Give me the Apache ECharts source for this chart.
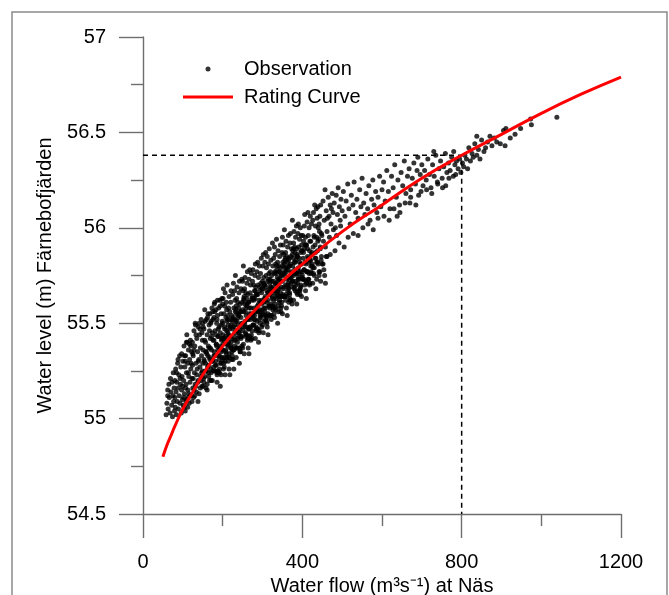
<!DOCTYPE html>
<html>
<head>
<meta charset="utf-8">
<script src="https://cdn.jsdelivr.net/npm/echarts@6/dist/echarts.min.js"></script>
<style>
html,body{margin:0;padding:0;background:#fff;}
#c{width:669px;height:595px;}
</style>
</head>
<body>
<div id="c"></div>
<script>
// ---- Data ----
const xTicks = [0, 400, 800, 1200];
const yTicks = [54.5, 55, 55.5, 56, 56.5, 57];

// Rating curve (flow m3/s, water level m)
const curveQ = [50, 60, 70, 80, 100, 125, 150, 200, 250, 300, 350, 400, 500, 600, 700, 800, 900, 1000, 1100, 1200];
const curveH = [54.80, 54.86, 54.91, 54.96, 55.05, 55.14, 55.23, 55.38, 55.50, 55.61, 55.72, 55.81, 55.98, 56.12, 56.26, 56.38, 56.49, 56.60, 56.70, 56.79];

// Reference reading (dashed guide lines)
const refQ = 800;
const refH = 56.38;

// Observations [flow, level]
const obsLow = [
[58,55.02],[60,55.08],[62,55.15],[63,55.05],[65,55.18],[66,55.11],[68,55.03],[69,55.21],[70,55.14],[72,55.07],[73,55.19],[74,55.01],[75,55.12],[76,55.24],[77,55.09],[78,55.16],[79,55.04],[80,55.20],[80,55.11],[62,55.12],
[81,55.06],[82,55.26],[83,55.14],[84,55.02],[85,55.19],[86,55.09],[87,55.29],[88,55.16],[89,55.05],[90,55.23],[91,55.12],[92,55.33],[93,55.08],[94,55.18],[95,55.27],[96,55.03],[97,55.15],[98,55.22],[99,55.10],[100,55.30],[84,55.24],[88,55.31],[93,55.21],[97,55.34],[99,55.17],
[101,55.07],[102,55.20],[103,55.38],[104,55.13],[105,55.27],[106,55.04],[107,55.33],[108,55.18],[109,55.24],[110,55.10],[111,55.40],[112,55.29],[113,55.15],[114,55.36],[115,55.22],[116,55.08],[117,55.31],[118,55.19],[119,55.41],[120,55.26],[121,55.12],[122,55.35],[123,55.21],[124,55.40],[125,55.16],[106,55.30],[110,55.44],[115,55.13],[120,55.38],[124,55.28],
[102,55.11],[104,55.33],[107,55.16],[109,55.40],[112,55.06],[114,55.24],[117,55.39],[121,55.29],[123,55.09],[125,55.34],
[126,55.33],[127,55.11],[128,55.46],[129,55.24],[130,55.38],[131,55.18],[132,55.49],[133,55.29],[134,55.14],[135,55.42],[136,55.26],[137,55.35],[138,55.20],[139,55.48],[140,55.31],[141,55.13],[142,55.44],[143,55.27],[144,55.37],[145,55.22],[146,55.52],[147,55.33],[148,55.17],[149,55.41],[150,55.29],[131,55.50],[138,55.09],[143,55.47],[147,55.24],[150,55.50],
[126,55.21],[128,55.36],[130,55.12],[133,55.44],[135,55.23],[139,55.30],[141,55.50],[144,55.16],[148,55.45],[149,55.25],
[151,55.36],[152,55.21],[153,55.47],[154,55.30],[155,55.57],[156,55.25],[157,55.40],[158,55.16],[159,55.52],[160,55.34],[161,55.44],[162,55.27],[163,55.55],[164,55.38],[165,55.22],[166,55.49],[167,55.32],[168,55.55],[169,55.42],[170,55.26],[171,55.51],[172,55.36],[173,55.58],[174,55.45],[175,55.30],[156,55.51],[161,55.18],[167,55.46],[171,55.20],[175,55.56],
[151,55.48],[153,55.19],[155,55.41],[157,55.29],[159,55.35],[162,55.53],[164,55.24],[166,55.37],[168,55.31],[170,55.50],[172,55.43],[174,55.20],
[176,55.41],[177,55.27],[178,55.53],[179,55.35],[180,55.61],[181,55.46],[182,55.30],[183,55.57],[184,55.39],[185,55.50],[186,55.24],[187,55.62],[188,55.43],[189,55.33],[190,55.58],[191,55.48],[192,55.37],[193,55.62],[194,55.45],[195,55.29],[196,55.55],[197,55.41],[198,55.63],[199,55.51],[200,55.36],[180,55.56],[186,55.52],[192,55.26],[196,55.49],[200,55.60],
[176,55.52],[178,55.33],[179,55.60],[181,55.25],[183,55.44],[185,55.38],[187,55.54],[189,55.47],[191,55.31],[194,55.59],[197,55.35],[199,55.42]
];
const obsMid = [
[200,55.50],[200,55.36],[201,55.63],[201,55.44],[202,55.68],[203,55.32],[203,55.55],[204,55.41],[205,55.59],[205,55.48],[206,55.30],[206,55.66],[207,55.43],[208,55.53],[208,55.35],[209,55.61],[210,55.46],[210,55.57],[211,55.39],[211,55.70],[212,55.52],[213,55.45],[213,55.54],[214,55.49],[215,55.58],[215,55.40],[216,55.64],[216,55.34],[217,55.47],[218,55.56],[218,55.43],[219,55.52],[220,55.38],[220,55.61],[221,55.49],[221,55.67],[222,55.42],[223,55.54],[223,55.31],[224,55.51],[228,55.26],
[225,55.47],[225,55.65],[226,55.53],[226,55.36],[227,55.71],[228,55.48],[228,55.58],[229,55.41],[230,55.67],[230,55.52],[231,55.62],[231,55.45],[232,55.75],[233,55.57],[233,55.51],[234,55.59],[235,55.55],[235,55.63],[236,55.46],[236,55.69],[237,55.40],[238,55.53],[238,55.61],[239,55.49],[240,55.58],[240,55.43],[241,55.66],[241,55.54],[242,55.72],[243,55.47],[243,55.60],[244,55.37],[245,55.56],[245,55.56],[246,55.42],[246,55.68],[247,55.50],[248,55.73],[248,55.38],[249,55.61],
[250,55.72],[250,55.57],[251,55.67],[251,55.50],[252,55.80],[253,55.62],[253,55.56],[254,55.64],[255,55.60],[255,55.68],[256,55.51],[256,55.74],[257,55.45],[258,55.58],[258,55.66],[259,55.54],[260,55.63],[260,55.48],[261,55.71],[261,55.59],[262,55.77],[263,55.52],[263,55.65],[264,55.42],[265,55.61],[265,55.61],[266,55.47],[266,55.73],[267,55.55],[268,55.78],[268,55.43],[269,55.66],[270,55.52],[270,55.70],[271,55.58],[271,55.41],[272,55.76],[273,55.53],[273,55.63],[274,55.46],
[275,55.64],[275,55.72],[276,55.55],[276,55.78],[277,55.49],[278,55.62],[278,55.70],[279,55.58],[280,55.67],[280,55.52],[281,55.75],[281,55.63],[282,55.81],[283,55.56],[283,55.69],[284,55.46],[285,55.65],[285,55.65],[286,55.51],[286,55.77],[287,55.59],[288,55.82],[288,55.47],[289,55.70],[290,55.56],[290,55.74],[291,55.62],[291,55.45],[292,55.80],[293,55.57],[293,55.67],[294,55.50],[295,55.76],[295,55.61],[296,55.71],[296,55.54],[297,55.84],[298,55.66],[298,55.60],[299,55.68],
[300,55.72],[300,55.57],[301,55.80],[301,55.68],[302,55.86],[303,55.61],[303,55.74],[304,55.51],[305,55.70],[305,55.70],[306,55.56],[306,55.82],[307,55.64],[308,55.87],[308,55.52],[309,55.75],[310,55.61],[310,55.79],[311,55.67],[311,55.50],[312,55.85],[313,55.62],[313,55.72],[314,55.55],[315,55.81],[315,55.66],[316,55.76],[316,55.59],[317,55.89],[318,55.71],[318,55.65],[319,55.73],[320,55.69],[320,55.77],[321,55.60],[321,55.83],[322,55.54],[323,55.67],[323,55.75],[324,55.63],
[325,55.69],[325,55.92],[326,55.57],[326,55.80],[327,55.66],[328,55.84],[328,55.72],[329,55.55],[330,55.90],[330,55.67],[331,55.77],[331,55.60],[332,55.86],[333,55.71],[333,55.81],[334,55.64],[335,55.94],[335,55.76],[336,55.70],[336,55.78],[337,55.74],[338,55.82],[338,55.65],[339,55.88],[340,55.59],[340,55.72],[341,55.80],[341,55.68],[342,55.77],[343,55.62],[343,55.85],[344,55.73],[345,55.91],[345,55.66],[346,55.79],[346,55.56],[347,55.75],[348,55.75],[348,55.61],[349,55.87],
[350,55.95],[350,55.72],[351,55.82],[351,55.65],[352,55.91],[353,55.76],[353,55.86],[354,55.69],[355,55.99],[355,55.81],[356,55.75],[356,55.83],[357,55.79],[358,55.87],[358,55.70],[359,55.93],[360,55.64],[360,55.77],[361,55.85],[361,55.73],[362,55.82],[363,55.67],[363,55.90],[364,55.78],[365,55.96],[365,55.71],[366,55.84],[366,55.61],[367,55.80],[368,55.80],[368,55.66],[369,55.92],[370,55.74],[370,55.97],[371,55.62],[371,55.85],[372,55.71],[373,55.89],[373,55.77],[374,55.60],
[375,56.04],[375,55.86],[376,55.80],[376,55.88],[377,55.84],[378,55.92],[378,55.75],[379,55.98],[380,55.69],[380,55.82],[381,55.90],[381,55.78],[382,55.87],[383,55.72],[383,55.95],[384,55.83],[385,56.01],[385,55.76],[386,55.89],[386,55.66],[387,55.85],[388,55.85],[388,55.71],[389,55.97],[390,55.79],[390,56.02],[391,55.67],[391,55.90],[392,55.76],[393,55.94],[393,55.82],[394,55.65],[395,56.00],[395,55.77],[396,55.87],[396,55.70],[397,55.96],[398,55.81],[398,55.91],[399,55.74]
];
// Dense core of observations close to the rating curve
const obsCore = [
[103,55.06],[108,55.09],[113,55.11],[118,55.12],[128,55.15],[133,55.17],[138,55.19],[145,55.20],
[151,55.17],[153,55.31],[155,55.22],[157,55.35],[159,55.25],[161,55.15],[163,55.33],[165,55.28],[167,55.20],[169,55.37],[171,55.24],[173,55.30],
[176,55.25],[178,55.41],[180,55.33],[182,55.28],[184,55.39],[186,55.23],[188,55.36],[190,55.43],[192,55.24],[194,55.38],[196,55.29],[198,55.42],
[201,55.39],[203,55.29],[205,55.47],[207,55.42],[209,55.34],[211,55.51],[213,55.38],[215,55.44],[217,55.32],[219,55.48],[221,55.40],[223,55.35],
[226,55.52],[228,55.36],[230,55.49],[232,55.56],[234,55.37],[236,55.51],[238,55.42],[240,55.55],[242,55.45],[244,55.35],[246,55.53],[248,55.48],
[251,55.46],[253,55.63],[255,55.50],[257,55.56],[259,55.44],[261,55.60],[263,55.52],[265,55.47],[267,55.58],[269,55.42],[271,55.55],[273,55.62],
[276,55.49],[278,55.63],[280,55.54],[282,55.67],[284,55.57],[286,55.47],[288,55.65],[290,55.60],[292,55.52],[294,55.69],[296,55.56],[298,55.62],
[301,55.55],[303,55.71],[305,55.63],[307,55.58],[309,55.69],[311,55.53],[313,55.66],[315,55.73],[317,55.54],[319,55.68],[321,55.59],[323,55.72],
[326,55.68],[328,55.58],[330,55.76],[332,55.71],[334,55.63],[336,55.80],[338,55.67],[340,55.73],[342,55.61],[344,55.77],[346,55.69],[348,55.64],
[351,55.80],[353,55.64],[355,55.77],[357,55.84],[359,55.65],[361,55.79],[363,55.70],[365,55.83],[367,55.73],[369,55.63],[371,55.81],[373,55.76],
[376,55.72],[378,55.89],[380,55.76],[382,55.82],[384,55.70],[386,55.86],[388,55.78],[390,55.73],[392,55.84],[394,55.68],[396,55.81],[398,55.88],
[401,55.73],[403,55.87],[405,55.78],[407,55.91],[409,55.81],[411,55.71],[413,55.89],[415,55.84],[417,55.76],[419,55.93],[421,55.80],[423,55.86],
[427,55.79],[430,55.95],[433,55.87],[436,55.82],[439,55.93],[442,55.77],[445,55.90],[448,55.97]
];
// Observations lying below the rating curve
const obsBelow = [
[182,55.25],[186,55.19],[190,55.24],[194,55.17],[198,55.32],[202,55.26],[206,55.23],[210,55.32],[214,55.30],[218,55.23],[222,55.37],[226,55.31],
[230,55.38],[234,55.32],[238,55.37],[242,55.29],[246,55.43],[250,55.37],[254,55.34],[258,55.43],[262,55.41],[266,55.34],[270,55.48],[274,55.42],
[278,55.49],[282,55.42],[286,55.47],[290,55.40],[294,55.54],[298,55.48],[302,55.45],[306,55.54],[310,55.51],[314,55.44],[318,55.58],[322,55.52],
[326,55.59],[330,55.53],[334,55.57],[338,55.50],[342,55.64],[346,55.58],[350,55.55],[354,55.64],[358,55.62],[362,55.54],[366,55.68],[370,55.62],
[374,55.69],[378,55.62],[382,55.67],[386,55.60],[390,55.74],[394,55.67],[398,55.64],[402,55.73],[406,55.70],[410,55.63],[414,55.77],[418,55.70],
[422,55.77],[426,55.71],[430,55.75],[434,55.68],[438,55.82],[442,55.75],[446,55.72],[450,55.81],[454,55.78],[458,55.71],[462,55.85],
[184,55.28],[188,55.25],[192,55.33],[196,55.23],[200,55.31],[204,55.27],[208,55.36],[212,55.32],[216,55.26],[220,55.37],[224,55.33],[228,55.43],
[232,55.41],[236,55.37],[240,55.45],[244,55.35],[248,55.43],[252,55.39],[256,55.48],[260,55.44],[264,55.37],[268,55.48],[272,55.44],[276,55.54],
[280,55.52],[284,55.48],[288,55.56],[292,55.46],[296,55.53],[300,55.49],[304,55.58],[308,55.54],[312,55.48],[316,55.59],[320,55.54],[324,55.64],
[328,55.62],[332,55.58],[336,55.66],[340,55.56],[344,55.64],[348,55.59],[352,55.68],[356,55.64],[360,55.58],[364,55.69],[368,55.65],[372,55.74],
[376,55.72],[380,55.68],[384,55.76],[388,55.65],[392,55.73],[396,55.69],[400,55.77],[404,55.73],[408,55.67],[412,55.77],[416,55.73],[420,55.83],
[424,55.80],[428,55.76],[432,55.84],[436,55.73],[440,55.81],[444,55.77],[448,55.85],[452,55.81],[456,55.75],[460,55.85],
[470,55.86],[482,55.88],[492,55.92],[505,55.90],[515,55.95],[528,55.97],[540,55.96],[552,56.00],[565,56.02],[578,55.99],[590,56.05],[605,56.06],
[618,56.04],[630,56.10],[645,56.08],[658,56.13],[672,56.16],[685,56.12],[698,56.19],[712,56.20],[725,56.18],[740,56.23],[752,56.21],[768,56.26],[785,56.28]
];
const obsHigh = [
[400,55.75],[400,55.88],[401,55.96],[402,55.84],[403,55.93],[404,55.78],[405,56.01],[405,55.89],[406,56.07],[407,55.82],[408,55.95],[409,55.72],[410,55.91],[410,55.91],[411,55.77],[412,56.03],[413,55.85],[414,56.08],[415,55.73],[415,55.96],[416,55.82],[417,56.00],[418,55.88],[419,55.71],[420,56.06],[420,55.83],[421,55.93],[422,55.76],[423,56.02],[424,55.87],
[425,55.81],[426,56.04],[427,55.90],[428,56.08],[429,55.96],[430,55.79],[431,56.12],[432,55.91],[433,56.01],[434,55.84],[435,56.10],[436,55.95],[437,56.05],[438,55.88],[439,56.11],[440,56.00],[441,55.94],[442,56.02],[443,55.98],[444,56.06],[445,55.89],[446,56.12],[447,55.83],[449,55.96],
[452,56.14],[455,56.04],[457,56.20],[460,56.09],[462,55.98],[465,56.16],[467,56.06],[470,56.12],[472,56.02],[475,56.18],[477,56.08],[480,56.13],[483,56.00],[485,56.17],[488,56.07],[490,56.21],[493,56.11],[495,56.04],[497,56.15],[500,56.09],
[453,55.93],[458,55.90],[463,56.05],[468,55.95],[473,56.10],[478,55.99],[486,55.96],[496,56.01],
[503,56.19],[507,56.06],[510,56.14],[514,56.23],[517,56.10],[520,56.02],[523,56.17],[527,56.12],[530,56.24],[534,56.08],[537,56.15],[540,56.05],[544,56.20],[547,56.11],[550,56.26],[554,56.13],[557,56.07],[560,56.18],[564,56.10],[567,56.22],[570,56.04],[574,56.15],[577,56.25],[580,56.12],[584,56.19],[587,56.08],[590,56.16],[594,56.27],[597,56.11],[600,56.20],
[604,56.24],[608,56.14],[612,56.30],[616,56.19],[620,56.10],[624,56.27],[628,56.21],[632,56.33],[636,56.16],[640,56.25],[644,56.12],[648,56.29],[652,56.22],[656,56.35],[660,56.18],[664,56.27],[668,56.31],[672,56.20],[676,56.26],[680,56.34],[684,56.23],[688,56.30],[692,56.17],[696,56.28],[700,56.33],[638,56.06],[670,56.13],[690,56.37],
[703,56.22],[707,56.30],[711,56.25],[715,56.36],[719,56.28],[723,56.21],[727,56.33],[731,56.27],[735,56.38],[739,56.24],[743,56.31],[747,56.35],[751,56.26],[755,56.32],[759,56.39],[763,56.29],[767,56.34],[771,56.30],[775,56.37],[779,56.27],[783,56.33],[787,56.35],[791,56.31],[795,56.36],[798,56.29],[780,56.40],[760,56.22],[730,56.40],
[802,56.34],[805,56.32],[808,56.38],[812,56.36],[815,56.31],[818,56.42],[822,56.35],[826,56.39],[829,56.37],[833,56.44],[838,56.38],[838,56.48],[842,56.41],[846,56.36],[850,56.46],[856,56.40],[860,56.42],[865,56.45],[871,56.48],[876,56.43],[882,56.47],[888,56.45],[897,56.44],[905,56.51],
[909,56.43],[911,56.52],[922,56.47],[934,56.49],[948,56.52],[973,56.57],[975,56.54],[1039,56.58]
];

// ---- Chart ----
const FONT = "'Liberation Sans', Arial, sans-serif";
const AXIS_COLOR = '#6e6e6e';

const observations = obsLow.concat(obsMid, obsCore, obsBelow, obsHigh);
const curveData = curveQ.map((q, i) => [q, curveH[i]]);
const refData = [[xTicks[0], refH], [refQ, refH], [refQ, yTicks[0]]];

const chart = echarts.init(document.getElementById('c'), null, {renderer: 'canvas'});
chart.setOption({
  animation: false,
  backgroundColor: '#fff',
  textStyle: {fontFamily: FONT},
  graphic: [{
    type: 'rect',
    shape: {x: 12, y: 12, width: 655, height: 620},
    style: {fill: 'none', stroke: '#8a8a8a', lineWidth: 1.5},
    silent: true,
    z: -10
  }],
  grid: {left: 143, top: 37, width: 478, height: 477, containLabel: false, outerBoundsMode: 'none'},
  legend: {
    orient: 'vertical',
    left: 178,
    top: 54,
    itemWidth: 50,
    itemHeight: 5,
    itemGap: 8,
    textStyle: {fontFamily: FONT, fontSize: 20, color: '#000', padding: [0, 0, 0, 6]},
    data: [
      {name: 'Observation', icon: 'circle', itemStyle: {color: '#000'}},
      {name: 'Rating Curve', icon: 'path://M0,0H50V3H0Z', itemStyle: {color: '#ff0000'}}
    ]
  },
  xAxis: {
    type: 'value',
    min: xTicks[0], max: xTicks[xTicks.length - 1], interval: 400,
    name: 'Water flow (m³s⁻¹) at Näs',
    nameLocation: 'middle',
    nameGap: 59,
    nameTextStyle: {fontFamily: FONT, fontSize: 20, color: '#000'},
    axisLine: {show: true, onZero: false, lineStyle: {color: AXIS_COLOR, width: 1.4}},
    axisTick: {show: true, inside: false, length: 24, lineStyle: {color: AXIS_COLOR, width: 1.4}},
    minorTick: {show: true, splitNumber: 2, length: 12, lineStyle: {color: AXIS_COLOR, width: 1.4}},
    axisLabel: {fontFamily: FONT, fontSize: 20, color: '#000', margin: 38, formatter: v => String(v)},
    splitLine: {show: false}
  },
  yAxis: {
    type: 'value',
    min: yTicks[0], max: yTicks[yTicks.length - 1], interval: 0.5,
    name: 'Water level (m) Färnebofjärden',
    nameLocation: 'middle',
    nameGap: 88,
    nameTextStyle: {fontFamily: FONT, fontSize: 20, color: '#000'},
    axisLine: {show: true, onZero: false, lineStyle: {color: AXIS_COLOR, width: 1.4}},
    axisTick: {show: true, inside: false, length: 24, lineStyle: {color: AXIS_COLOR, width: 1.4}},
    minorTick: {show: true, splitNumber: 2, length: 12, lineStyle: {color: AXIS_COLOR, width: 1.4}},
    axisLabel: {fontFamily: FONT, fontSize: 20, color: '#000', margin: 37, formatter: v => String(v)},
    splitLine: {show: false}
  },
  series: [
    {
      name: 'Observation',
      type: 'scatter',
      data: observations,
      symbol: 'circle',
      symbolSize: 5,
      itemStyle: {color: '#000'},
      z: 2
    },
    {
      name: 'Guide',
      type: 'line',
      data: refData,
      showSymbol: false,
      symbol: 'none',
      lineStyle: {color: '#000', width: 1.5, type: [5, 4]},
      z: 3
    },
    {
      name: 'Rating Curve',
      type: 'line',
      data: curveData,
      smooth: true,
      showSymbol: false,
      symbol: 'none',
      itemStyle: {color: '#ff0000'},
      lineStyle: {color: '#ff0000', width: 3},
      z: 4
    }
  ]
});
</script>
</body>
</html>
